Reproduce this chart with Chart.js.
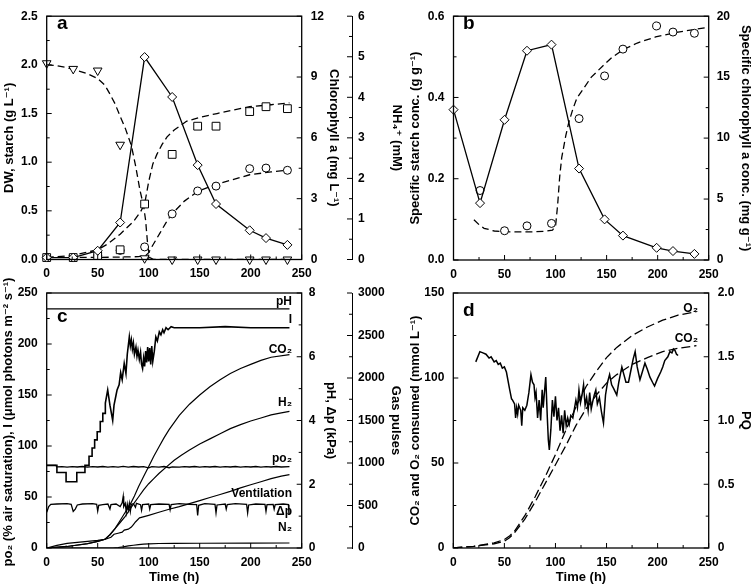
<!DOCTYPE html>
<html><head><meta charset="utf-8">
<script src="https://cdn.jsdelivr.net/npm/chart.js@4.4.1/dist/chart.umd.min.js"></script>
<style>
html,body{margin:0;padding:0;background:#fff;}
#wrap{position:relative;width:756px;height:585px;overflow:hidden;background:#fff;}
canvas{position:absolute;}
</style></head><body>
<div id="wrap">
<canvas id="ca" width="408" height="290" style="left:0px;top:0px"></canvas>
<canvas id="cb" width="352" height="290" style="left:404px;top:0px"></canvas>
<canvas id="cc" width="408" height="320" style="left:0px;top:265px"></canvas>
<canvas id="cd" width="352" height="320" style="left:404px;top:265px"></canvas>
</div>
<script>
// ---------------- DATA ----------------
// Panel a (sampling times, h)
const T_SAMPLE = [0, 26, 50, 72, 96, 123, 148, 166, 199, 215, 236];
const STARCH_A = [0.02, 0.02, 0.09, 0.38, 2.08, 1.67, 0.97, 0.57, 0.30, 0.22, 0.15]; // g/L (diamonds)
const DW_A = [0.02, 0.02, 0.04, 0.10, 0.57, 1.08, 1.37, 1.37, 1.52, 1.57, 1.55];    // g/L (squares)
const CHL_A = [0.1, 0.1, 0.2, 0.45, 0.62, 2.25, 3.38, 3.62, 4.48, 4.51, 4.40];      // mg/L (circles)
const NH4_A = [4.84, 4.70, 4.66, 2.83, 0.03, 0, 0, 0, 0, 0, 0];                      // mM (triangles)
const NH4_FIT = [[0,4.8],[10,4.78],[20,4.73],[30,4.66],[40,4.58],[50,4.46],[57,4.3],[62,4.08],[67,3.84],[72,3.53],[77,3.24],[83,2.81],[87,2.33],[91.5,1.7],[95,1.32],[97,0.96],[99,0.36],[101,0.05],[105,0],[236,0]];
const DW_FIT = [[0,0.02],[25,0.04],[50,0.10],[60,0.16],[72,0.26],[85,0.39],[92,0.49],[96,0.57],[100,0.80],[104,0.98],[108,1.08],[113,1.18],[118,1.26],[125,1.33],[137,1.42],[150,1.46],[167,1.50],[185,1.54],[199,1.57],[220,1.59],[238,1.61]];
const CHL_FIT = [[0,0.1],[50,0.1],[90,0.14],[97,0.19],[100,0.34],[103,0.62],[107,0.96],[111,1.3],[117,1.82],[123,2.26],[135,2.88],[148,3.36],[166,3.7],[185,3.98],[199,4.18],[220,4.32],[238,4.42]];

// Panel b
const SPEC_STARCH_B = [0.37, 0.14, 0.345, 0.515, 0.53, 0.225, 0.10, 0.06, 0.03, 0.022, 0.015];
const T_CHL_B = [26, 50, 72, 96, 123, 148, 166, 199, 215, 236];
const SPEC_CHL_B = [5.7, 2.4, 2.8, 3.0, 11.6, 15.1, 17.3, 19.2, 18.7, 18.6];
const SPEC_CHL_FIT = [[20,3.3],[25,2.9],[30,2.6],[40,2.38],[50,2.32],[60,2.3],[70,2.3],[80,2.32],[90,2.36],[97,2.45],[100,2.8],[102,4.5],[104,6.8],[106,8.4],[110,10.2],[113,11.3],[117,12.4],[121,13.3],[126,13.9],[135,15.0],[146,15.9],[155,16.6],[166,17.25],[180,17.8],[198,18.3],[220,18.7],[250,19.1]];

// Panel c
const PH_C = [[0,7.5],[238,7.5]];
const LIGHT_C = [[0,81],[10,81],[10,74],[19,74],[19,65],[29.5,65],[29.5,74],[37.5,74],[37.5,81],[41.5,81],[41.5,90],[44.5,90],[44.5,98],[47,98],[47,106],[49.5,106],[49.5,114],[52.5,114],[52.5,124],[55,124],[55,132],[57.5,132],[57.5,142],[59.8,155],[62,140],[64.7,125],[66,140],[68,150],[69,155],[71,160],[72.5,172],[74,165],[76,181],[77.7,171],[79,190],[81,207],[82,198],[83,204],[84,195],[85,201],[86,190],[87.5,197],[88.5,188],[89.5,194],[90.8,185],[92,192],[93,180],[94,176],[95,186],[96,178],[97,193],[98,182],[99,197],[100,183],[101,196],[102,180],[103,198],[104,183],[105.5,193],[107,207],[108.5,203],[110.4,212],[112,209],[113.7,214],[115,211],[117,216],[119,214],[122,217],[125,216],[150,216],[175,217],[200,216],[225,216],[238,216]];
const PO2_C = [[0,81],[9,81],[10,79.5],[15,79.8],[20,79.2],[25,79.7],[30,79.4],[35,79.9],[40,79.3],[45,79.8],[50,79.4],[55,79.9],[60,79.2],[65,79.8],[70,79.3],[75,80.1],[80,79.2],[85,79.9],[90,79.4],[95,79.8],[100,78.6],[103,79.7],[110,79.3],[115,79.9],[120,78.7],[123,79.6],[130,79.3],[135,79.8],[140,79.4],[145,79.9],[150,79.3],[155,79.8],[160,79.4],[165,79.9],[170,79.3],[175,79.8],[180,79.4],[185,79.9],[190,79.3],[195,79.8],[200,79.4],[205,79.9],[210,79.3],[215,79.8],[220,79.4],[225,79.9],[230,79.4],[238,79.7]];
const DP_C = [[0,1.12],[2,1.3],[4,1.37],[10,1.38],[20,1.39],[24,1.37],[26,1.15],[28,1.22],[30,1.35],[35,1.38],[45,1.39],[49,1.37],[50,1.16],[51,1.34],[55,1.36],[60,1.38],[62,1.22],[63,1.36],[68,1.38],[72,1.30],[74,1.42],[75,1.62],[75.5,1.30],[77,1.40],[78,1.12],[79,1.38],[80,1.20],[81,1.40],[82,1.15],[83,1.37],[85,1.39],[87,1.28],[88,1.40],[92,1.36],[93,1.18],[94,1.36],[100,1.38],[101,1.22],[102,1.36],[110,1.38],[120,1.37],[121,1.20],[122,1.36],[130,1.39],[140,1.37],[147,1.36],[148,1.02],[149,1.34],[155,1.39],[165,1.37],[166,1.10],[167,1.35],[175,1.38],[176,1.22],[177,1.36],[185,1.39],[196,1.37],[197,1.10],[198,1.35],[205,1.38],[214,1.37],[215,1.15],[216,1.36],[222,1.37],[223,1.22],[224,1.36],[232,1.38],[237,1.36],[237.5,1.05]];
const CO2_PULSES = [[0,0],[20,18],[40,50],[50,78],[57,102],[62,156],[67,228],[72,324],[77,420],[82,516],[86,612],[90,720],[95,840],[100,960],[105,1080],[110,1188],[115,1296],[120,1392],[130,1560],[140,1692],[150,1800],[160,1896],[170,1980],[180,2052],[190,2112],[200,2160],[210,2208],[220,2244],[238,2274]];
const H2_PULSES = [[0,0],[20,18],[40,52],[50,78],[57,102],[62,156],[67,228],[72,300],[77,372],[81,444],[85,516],[90,600],[95,684],[100,756],[105,816],[110,876],[118,960],[125,1032],[132,1092],[140,1152],[150,1224],[160,1284],[170,1344],[180,1404],[190,1452],[200,1494],[210,1530],[220,1566],[230,1590],[238,1608]];
const VENT_PULSES = [[0,0],[10,30],[20,54],[30,66],[40,78],[50,90],[57,102],[63,126],[66,162],[70,174],[74,186],[76,210],[80,222],[83,246],[85,276],[87,306],[91,354],[100,384],[110,420],[120,456],[130,486],[140,522],[150,558],[160,594],[170,630],[180,666],[190,708],[200,744],[210,780],[220,816],[230,846],[238,864]];
const N2_PULSES = [[0,0],[65,0],[70,6],[75,14],[80,24],[85,32],[90,40],[95,46],[100,49],[110,53],[125,55],[150,56],[200,58],[238,59]];

// Panel d
const O2_CONS = [[0,0],[20,1],[40,3],[50,5],[55,7],[60,10],[70,19],[80,30],[90,42],[100,55],[110,69],[120,83],[130,95],[140,104],[150,112],[160,118],[175,125],[190,130],[205,134],[220,137],[238,139]];
const CO2_CONS = [[0,0],[20,1],[40,2.5],[50,4],[55,6],[60,9],[70,17],[80,27],[90,38],[100,49],[110,60],[120,72],[130,82],[140,90],[150,97],[160,102],[175,108],[190,112],[205,115.5],[220,117.5],[238,119]];
const PQ_D = [[22,1.46],[26,1.54],[29,1.53],[32,1.52],[35,1.49],[37,1.50],[40,1.46],[42,1.47],[44,1.44],[46,1.45],[48,1.41],[50,1.42],[52,1.38],[55,1.25],[57,1.17],[58,1.16],[60,1.13],[61,1.02],[62,1.10],[63,1.05],[64,1.12],[66,1.08],[67,0.96],[68,1.10],[70,1.08],[72,1.12],[74,1.22],[76,1.36],[77.5,1.30],[79,1.28],[80,1.18],[81,1.22],[82.5,1.02],[84,1.16],[85.5,1.00],[87,1.24],[88,1.10],[89,1.20],[90.5,1.34],[92,1.03],[93,0.85],[94,0.77],[95.5,0.93],[97,1.16],[98.5,1.03],[100,1.19],[101.5,1.00],[103,1.10],[104.5,0.92],[106,1.04],[107.5,0.90],[109,1.08],[110.5,0.96],[112,1.02],[113.5,0.97],[115,1.04],[117,1.02],[118.5,1.09],[120,1.16],[121.5,1.10],[123,1.24],[124.5,1.14],[126,1.20],[127.5,1.28],[129,1.12],[130.5,1.18],[132,1.08],[133.5,1.22],[135,1.09],[136.5,1.15],[138,1.20],[139.5,1.24],[141,1.13],[143,1.18],[145,1.07],[147,0.98],[149,1.20],[151,1.30],[153,1.36],[155,1.28],[157,1.25],[160,1.20],[162,1.30],[165,1.42],[167,1.36],[169,1.30],[171.5,1.30],[174,1.40],[176,1.48],[178,1.54],[180,1.42],[182.7,1.32],[185,1.38],[187.6,1.45],[190,1.40],[192.5,1.34],[195,1.30],[197,1.27],[200,1.33],[203,1.38],[205,1.42],[207,1.47],[210,1.50],[212,1.54],[214,1.53],[215.5,1.56],[217,1.55],[218.5,1.52],[220,1.51]];

// Tick labels
const X_TICKS = [0, 50, 100, 150, 200, 250];

// ---------------- HELPERS ----------------
const FONT = "'Liberation Sans', Arial, Helvetica, 'DejaVu Sans', sans-serif";
Chart.defaults.font.family = FONT;
Chart.defaults.font.weight = 'bold';
Chart.defaults.font.size = 12;
Chart.defaults.color = '#000';

const xy = (xs, ys) => xs.map((x, i) => ({x: x, y: ys[i]}));
const pr = arr => arr.map(p => ({x: p[0], y: p[1]}));

function frame(cfg) {
  return {
    id: 'frame',
    afterDraw(chart) {
      const ctx = chart.ctx, a = chart.chartArea;
      ctx.save();
      ctx.strokeStyle = '#000';
      ctx.lineWidth = 1.3;
      ctx.strokeRect(a.left, a.top, a.right - a.left, a.bottom - a.top);
      ctx.lineWidth = 1;
      cfg.ticks.forEach(tk => {
        const s = chart.scales[tk.id];
        const n = Math.round((s.max - s.min) / tk.minor);
        for (let i = 0; i <= n; i++) {
          const v = s.min + i * tk.minor;
          const major = Math.abs(v / tk.major - Math.round(v / tk.major)) < 1e-6;
          const len = major ? 5 : 3;
          const p = s.getPixelForValue(v);
          ctx.beginPath();
          if (tk.side === 'left') { ctx.moveTo(a.left, p); ctx.lineTo(a.left + len, p); }
          else if (tk.side === 'right') { ctx.moveTo(a.right, p); ctx.lineTo(a.right - len, p); }
          else if (tk.side === 'bottom') { ctx.moveTo(p, a.bottom); ctx.lineTo(p, a.bottom - len); }
          else if (tk.side === 'outer') { ctx.moveTo(s.left, p); ctx.lineTo(s.left - len, p); }
          ctx.stroke();
        }
      });
      (cfg.texts || []).forEach(tx => {
        ctx.save();
        ctx.font = 'bold ' + (tx.size || 12) + 'px ' + FONT;
        ctx.fillStyle = '#000';
        ctx.textAlign = tx.align || 'left';
        ctx.textBaseline = 'middle';
        ctx.translate(tx.x, tx.y);
        if (tx.rot) ctx.rotate(tx.rot);
        ctx.fillText(tx.text, 0, 0);
        ctx.restore();
      });
      ctx.restore();
    }
  };
}

function yAxis(pos, min, max, step, width, o) {
  return {
    type: 'linear', position: pos, min: min, max: max, weight: o.weight || 0,
    ticks: {stepSize: step, padding: o.pad, color: '#000', font: {size: 12, weight: 'bold'},
            callback: o.fmt || (v => String(v))},
    grid: {display: false, drawTicks: false},
    border: {display: !!o.border, color: '#000', width: 1},
    title: o.title ? {display: true, text: o.title, color: '#000', font: {size: 13, weight: 'bold'},
                      padding: {top: o.tpad, bottom: 0}} : {display: false},
    afterFit(s) { s.width = width; }
  };
}
function xAxis(height, pad, title) {
  return {
    type: 'linear', position: 'bottom', min: 0, max: 250,
    afterBuildTicks(s) { s.ticks = X_TICKS.map(v => ({value: v})); },
    ticks: {padding: pad, color: '#000', maxRotation: 0, font: {size: 12, weight: 'bold'}, callback: v => String(v)},
    grid: {display: false, drawTicks: false},
    border: {display: false},
    title: title ? {display: true, text: title, color: '#000', font: {size: 13, weight: 'bold'}, padding: {top: 0, bottom: 0}} : {display: false},
    afterFit(s) { s.height = height; }
  };
}
function line(data, axis, o) {
  return Object.assign({data: data, yAxisID: axis, borderColor: '#000', backgroundColor: '#fff',
    borderWidth: 1.3, pointRadius: 0, tension: 0, fill: false}, o || {});
}
function markers(data, axis, style, r, o) {
  return Object.assign({data: data, yAxisID: axis, showLine: false, clip: false, borderColor: '#000', backgroundColor: '#fff',
    pointStyle: style, pointRadius: r, pointBorderWidth: 1, pointBorderColor: '#000', pointBackgroundColor: '#fff'}, o || {});
}
function baseOpts(padTop, scales) {
  return {responsive: false, animation: false, devicePixelRatio: 1,
    layout: {padding: {top: padTop, left: 0, right: 0, bottom: 0}},
    plugins: {legend: {display: false}, tooltip: {enabled: false}},
    scales: scales};
}
const DASH = [7, 4];

// ---------------- PANEL A ----------------
new Chart(document.getElementById('ca'), {
  type: 'line',
  data: {datasets: [
    markers(xy(T_SAMPLE, STARCH_A), 'y', 'rectRot', 4.5, {showLine: true, borderWidth: 1.3}),
    markers(xy(T_SAMPLE, DW_A), 'y', 'rect', 5.5),
    markers(xy(T_SAMPLE, CHL_A), 'yChl', 'circle', 4),
    markers(xy(T_SAMPLE, NH4_A), 'yNH4', 'triangle', 5, {pointRotation: 180}),
    line(pr(NH4_FIT), 'yNH4', {borderDash: DASH}),
    line(pr(DW_FIT), 'y', {borderDash: DASH}),
    line(pr(CHL_FIT), 'yChl', {borderDash: DASH})
  ]},
  options: baseOpts(5, {
    x: xAxis(30.5, 7),
    y: yAxis('left', 0, 2.5, 0.5, 46.7, {pad: 9, fmt: v => v.toFixed(1), title: 'DW, starch (g L⁻¹)', tpad: 2}),
    yChl: yAxis('right', 0, 12, 3, 50.3, {pad: 9, title: 'Chlorophyll a (mg L⁻¹)', tpad: 11, weight: 0}),
    yNH4: yAxis('right', 0, 6, 1, 56, {pad: 6, border: true, title: 'NH₄⁺ (mM)', tpad: 4, weight: 1})
  }),
  plugins: [frame({
    ticks: [{id: 'x', major: 50, minor: 25, side: 'bottom'}, {id: 'y', major: 0.5, minor: 0.25, side: 'left'},
            {id: 'yChl', major: 3, minor: 1.5, side: 'right'}, {id: 'yNH4', major: 1, minor: 0.5, side: 'outer'}],
    texts: [{text: 'a', x: 57, y: 24, size: 19}]
  })]
});

// ---------------- PANEL B ----------------
new Chart(document.getElementById('cb'), {
  type: 'line',
  data: {datasets: [
    markers(xy(T_SAMPLE, SPEC_STARCH_B), 'y', 'rectRot', 4.5, {showLine: true, borderWidth: 1.3}),
    markers(xy(T_CHL_B, SPEC_CHL_B), 'yR', 'circle', 4),
    line(pr(SPEC_CHL_FIT), 'yR', {borderDash: DASH})
  ]},
  options: baseOpts(5, {
    x: xAxis(30, 7),
    y: yAxis('left', 0, 0.6, 0.2, 49.5, {pad: 9, fmt: v => v.toFixed(1), title: 'Specific starch conc. (g g⁻¹)', tpad: 4}),
    yR: yAxis('right', 0, 20, 5, 47.3, {pad: 8, title: 'Specific chlorophyll a conc. (mg g⁻¹)', tpad: 3})
  }),
  plugins: [frame({
    ticks: [{id: 'x', major: 50, minor: 25, side: 'bottom'}, {id: 'y', major: 0.2, minor: 0.1, side: 'left'},
            {id: 'yR', major: 5, minor: 2.5, side: 'right'}],
    texts: [{text: 'b', x: 59, y: 24, size: 19}]
  })]
});

// ---------------- PANEL C ----------------
new Chart(document.getElementById('cc'), {
  type: 'line',
  data: {datasets: [
    line(pr(PH_C), 'yPH', {borderWidth: 1.3}),
    line(pr(LIGHT_C), 'y', {borderWidth: 1.6}),
    line(pr(PO2_C), 'y', {borderWidth: 1.3}),
    line(pr(DP_C), 'yPH', {borderWidth: 1.3}),
    line(pr(CO2_PULSES), 'yG', {borderWidth: 1.2}),
    line(pr(H2_PULSES), 'yG', {borderWidth: 1.2}),
    line(pr(VENT_PULSES), 'yG', {borderWidth: 1.2}),
    line(pr(N2_PULSES), 'yG', {borderWidth: 1.2})
  ]},
  options: baseOpts(28, {
    x: xAxis(37, 7, 'Time (h)'),
    y: yAxis('left', 0, 250, 50, 46.7, {pad: 9}),
    yPH: yAxis('right', 0, 8, 2, 50.3, {pad: 7, title: 'pH, Δp (kPa)', tpad: 14, weight: 0}),
    yG: yAxis('right', 0, 3000, 500, 56, {pad: 6, border: true, title: 'Gas pulses', tpad: 5, weight: 1})
  }),
  plugins: [frame({
    ticks: [{id: 'x', major: 50, minor: 25, side: 'bottom'}, {id: 'y', major: 50, minor: 25, side: 'left'},
            {id: 'yPH', major: 2, minor: 1, side: 'right'}, {id: 'yG', major: 500, minor: 250, side: 'outer'}],
    texts: [
      {text: 'c', x: 57, y: 52, size: 19},
      {text: 'po₂ (% air saturation), I (μmol photons m⁻² s⁻¹)', x: 8, y: 157, size: 13, align: 'center', rot: -Math.PI / 2},
      {text: 'pH', x: 292, y: 37, align: 'right'},
      {text: 'I', x: 292, y: 55, align: 'right'},
      {text: 'CO₂', x: 292, y: 85, align: 'right'},
      {text: 'H₂', x: 292, y: 138, align: 'right'},
      {text: 'po₂', x: 292, y: 194, align: 'right'},
      {text: 'Ventilation', x: 292, y: 229, align: 'right'},
      {text: 'Δp', x: 292, y: 247, align: 'right'},
      {text: 'N₂', x: 292, y: 263, align: 'right'}
    ]
  })]
});

// ---------------- PANEL D ----------------
new Chart(document.getElementById('cd'), {
  type: 'line',
  data: {datasets: [
    line(pr(PQ_D), 'yPQ', {borderWidth: 1.5}),
    line(pr(O2_CONS), 'y', {borderDash: [9, 4], borderWidth: 1.3}),
    line(pr(CO2_CONS), 'y', {borderDash: [9, 4], borderWidth: 1.3})
  ]},
  options: baseOpts(28, {
    x: xAxis(37, 7, 'Time (h)'),
    y: yAxis('left', 0, 150, 50, 49.3, {pad: 9, title: 'CO₂ and O₂ consumed (mmol L⁻¹)', tpad: 4}),
    yPQ: yAxis('right', 0, 2, 0.5, 47.3, {pad: 9, fmt: v => (v === 0 ? '0' : v.toFixed(1)), title: 'PQ', tpad: 3})
  }),
  plugins: [frame({
    ticks: [{id: 'x', major: 50, minor: 25, side: 'bottom'}, {id: 'y', major: 50, minor: 25, side: 'left'},
            {id: 'yPQ', major: 0.5, minor: 0.25, side: 'right'}],
    texts: [
      {text: 'd', x: 59, y: 46, size: 19},
      {text: 'O₂', x: 294, y: 44, align: 'right'},
      {text: 'CO₂', x: 294, y: 74, align: 'right'}
    ]
  })]
});
</script>
</body></html>
